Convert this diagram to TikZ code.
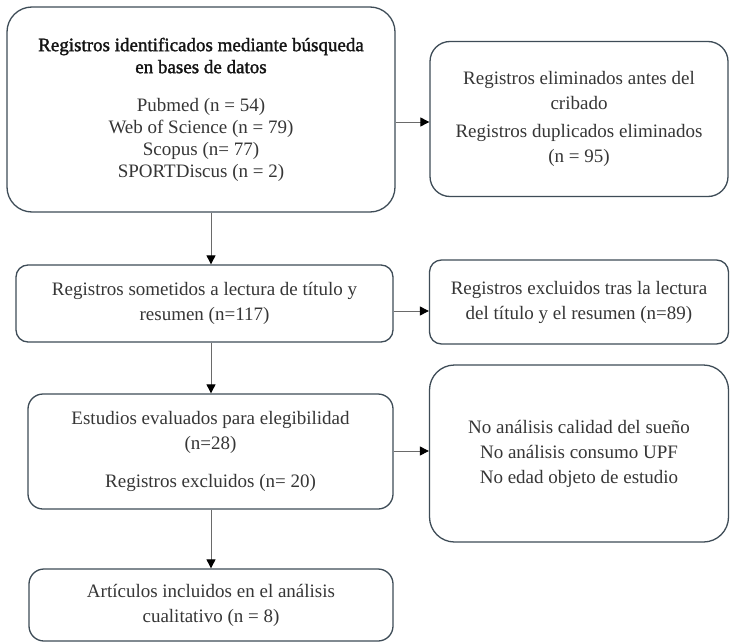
\documentclass[tikz,border=0pt]{standalone}
\usepackage{fontspec}
\setmainfont{Liberation Serif}
\newfontfamily\semibfont[FakeBold=1.6]{Liberation Serif}
\usetikzlibrary{arrows.meta}
\definecolor{boxline}{HTML}{3E4C57}
\definecolor{txt}{HTML}{363636}
\definecolor{arrline}{HTML}{6A6A6A}
\tikzset{
  flowbox/.style={draw=boxline, line width=1.3pt, align=center, text=txt, inner sep=0pt,
    font=\fontsize{19}{25}\selectfont},
  flowarr/.style={draw=arrline, line width=0.9pt, -{Triangle[length=9pt,width=9pt,fill=black,color=black]}}
}
\newcommand{\ttlfont}{\semibfont\fontsize{19}{22}\selectfont\color{black!92}}
\begin{document}
\begin{tikzpicture}[x=1pt,y=-1pt]
\useasboundingbox[fill=white] (0,0) rectangle (730,642);
% boxes
\node[flowbox, rounded corners=25pt, minimum width=388pt, minimum height=205pt, font=\fontsize{19}{22}\selectfont] (b1) at (201,109.5) {\ttlfont Registros identificados mediante búsqueda\\ \ttlfont en bases de datos\\[16pt] Pubmed (n = 54)\\ Web of Science (n = 79)\\ Scopus (n= 77)\\ SPORTDiscus (n = 2)};
\node[flowbox, rounded corners=20pt, minimum width=298pt, minimum height=155pt] (b2) at (579,119) {Registros eliminados antes del\\ cribado\\[3pt] Registros duplicados eliminados\\ (n = 95)};
\node[flowbox, rounded corners=12pt, minimum width=377pt, minimum height=77pt] (b3) at (204.5,303.5) {Registros sometidos a lectura de título y\\ resumen (n=117)};
\node[flowbox, rounded corners=12pt, minimum width=299pt, minimum height=84pt] (b4) at (579,302) {Registros excluidos tras la lectura\\ del título y el resumen (n=89)};
\node[flowbox, rounded corners=15pt, minimum width=365pt, minimum height=115pt] (b5) at (210.5,451.5) {Estudios evaluados para elegibilidad\\ (n=28)\\[13pt] Registros excluidos (n= 20)};
\node[flowbox, rounded corners=25pt, minimum width=299pt, minimum height=177pt] (b6) at (579,453.5) {No análisis calidad del sueño\\ No análisis consumo UPF\\ No edad objeto de estudio};
\node[flowbox, rounded corners=15pt, minimum width=364pt, minimum height=72pt] (b7) at (211,605) {Artículos incluidos en el análisis\\ cualitativo (n = 8)};
% connector rows / columns
\coordinate (col) at (211,0);
\coordinate (r1) at (0,122);
\coordinate (r2) at (0,311);
\coordinate (r3) at (0,451);
\draw[flowarr] (b1.south -| col) -- (b3.north -| col);
\draw[flowarr] (b3.south -| col) -- (b5.north -| col);
\draw[flowarr] (b5.south -| col) -- (b7.north -| col);
\draw[flowarr] (b1.east |- r1) -- (b2.west |- r1);
\draw[flowarr] (b3.east |- r2) -- (b4.west |- r2);
\draw[flowarr] (b5.east |- r3) -- (b6.west |- r3);
\end{tikzpicture}
\end{document}
